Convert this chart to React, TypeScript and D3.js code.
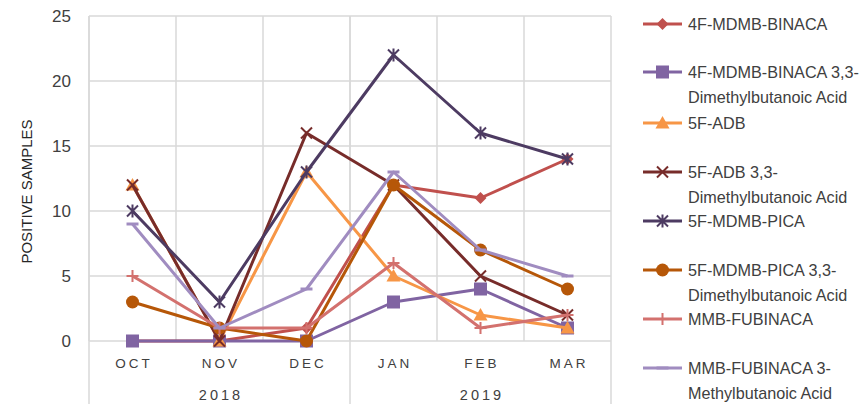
import React from "react";
import * as d3 from "d3";

const months = ["OCT", "NOV", "DEC", "JAN", "FEB", "MAR"];
const years = [
  { label: "2018", from: 0, to: 3 },
  { label: "2019", from: 3, to: 6 },
];
const yTicks = [0, 5, 10, 15, 20, 25];

const s4FMDMB = [0, 0, 1, 12, 11, 14];
const s4FMDMBAcid = [0, 0, 0, 3, 4, 1];
const s5FADB = [12, 0, 13, 5, 2, 1];
const s5FADBAcid = [12, 0, 16, 12, 5, 2];
const s5FPICA = [10, 3, 13, 22, 16, 14];
const s5FPICAAcid = [3, 1, 0, 12, 7, 4];
const sMMB = [5, 1, 1, 6, 1, 2];
const sMMBAcid = [9, 1, 4, 13, 7, 5];

const series = [
  { name: ["4F-MDMB-BINACA"], values: s4FMDMB, color: "#C0504D", marker: "diamond" },
  { name: ["4F-MDMB-BINACA 3,3-", "Dimethylbutanoic Acid"], values: s4FMDMBAcid, color: "#8064A2", marker: "square" },
  { name: ["5F-ADB"], values: s5FADB, color: "#F79646", marker: "triangle" },
  { name: ["5F-ADB 3,3-", "Dimethylbutanoic Acid"], values: s5FADBAcid, color: "#772C2A", marker: "x" },
  { name: ["5F-MDMB-PICA"], values: s5FPICA, color: "#4D3B62", marker: "star" },
  { name: ["5F-MDMB-PICA 3,3-", "Dimethylbutanoic Acid"], values: s5FPICAAcid, color: "#B65708", marker: "circle" },
  { name: ["MMB-FUBINACA"], values: sMMB, color: "#D3716E", marker: "plus" },
  { name: ["MMB-FUBINACA 3-", "Methylbutanoic Acid"], values: sMMBAcid, color: "#A08CC0", marker: "dash" },
];

const W = 863;
const H = 404;
const plot = { left: 89, right: 611, top: 16, bottom: 341 };
const FONT = "'Liberation Sans', Arial, sans-serif";

function Marker({ type, color, x, y }: { type: string; color: string; x: number; y: number }) {
  const t = `translate(${x},${y})`;
  if (type === "diamond") {
    const r = 6;
    return <path transform={t} d={`M0,${-r}L${r},0L0,${r}L${-r},0Z`} fill={color} />;
  }
  if (type === "square") {
    const r = 6.5;
    return <rect x={x - r} y={y - r} width={2 * r} height={2 * r} fill={color} />;
  }
  if (type === "triangle") {
    const r = 7;
    return <path transform={t} d={`M0,${-r}L${r},${r * 0.8}L${-r},${r * 0.8}Z`} fill={color} />;
  }
  if (type === "circle") {
    return <circle cx={x} cy={y} r={6.5} fill={color} />;
  }
  if (type === "x") {
    const r = 5.5;
    return (
      <path transform={t} d={`M${-r},${-r}L${r},${r}M${-r},${r}L${r},${-r}`} stroke={color} strokeWidth={2} fill="none" />
    );
  }
  if (type === "star") {
    const r = 5.5;
    return (
      <path
        transform={t}
        d={`M${-r},${-r}L${r},${r}M${-r},${r}L${r},${-r}M0,${-r - 1}L0,${r + 1}`}
        stroke={color}
        strokeWidth={2}
        fill="none"
      />
    );
  }
  if (type === "plus") {
    const r = 6;
    return <path transform={t} d={`M${-r},0L${r},0M0,${-r}L0,${r}`} stroke={color} strokeWidth={2} fill="none" />;
  }
  if (type === "dash") {
    const r = 6;
    return <path transform={t} d={`M${-r},0L${r},0`} stroke={color} strokeWidth={3} fill="none" />;
  }
  return null;
}

export default function App() {
  const x = d3.scaleBand<string>().domain(months).range([plot.left, plot.right]).padding(0);
  const y = d3.scaleLinear().domain([0, 25]).range([plot.bottom, plot.top]);
  const cx = (m: string) => (x(m) as number) + x.bandwidth() / 2;
  const line = d3
    .line<number>()
    .x((_, i) => cx(months[i]))
    .y((v) => y(v));

  const grid = "#D9D9D9";
  const legendX0 = 643;
  const legendX1 = 682;
  const legendYs = [24, 72, 123, 172, 221, 270, 319, 368];

  return (
    <svg
      width={W}
      height={H}
      style={{ position: "absolute", left: 0, top: 0, background: "#fff" }}
      fontFamily={FONT}
    >
      {yTicks.map((t) => (
        <line key={"h" + t} x1={plot.left} x2={plot.right} y1={y(t)} y2={y(t)} stroke={grid} strokeWidth={1.5} />
      ))}
      {months.map((m) => (
        <line key={"v" + m} x1={x(m)} x2={x(m)} y1={plot.top} y2={plot.bottom} stroke={grid} strokeWidth={1.5} />
      ))}
      <line x1={plot.right} x2={plot.right} y1={plot.top} y2={H} stroke={grid} strokeWidth={1.5} />
      {years.map((yr) => (
        <line
          key={"ys" + yr.label}
          x1={x(months[yr.from])}
          x2={x(months[yr.from])}
          y1={plot.top}
          y2={H}
          stroke={grid}
          strokeWidth={1.5}
        />
      ))}
      {yTicks.map((t) => (
        <text key={"yt" + t} x={71} y={y(t)} dy="0.35em" textAnchor="end" fontSize={17} fill="#404040">
          {t}
        </text>
      ))}
      <text
        transform={`translate(32,191.5) rotate(-90)`}
        textAnchor="middle"
        fontSize={15}
        fill="#262626"
      >
        POSITIVE SAMPLES
      </text>
      {months.map((m) => (
        <text
          key={"m" + m}
          x={cx(m) + 1.5}
          y={363}
          dy="0.35em"
          textAnchor="middle"
          fontSize={13.5}
          letterSpacing={3}
          fill="#404040"
        >
          {m}
        </text>
      ))}
      {years.map((yr) => {
        const a = x(months[yr.from]) as number;
        const b = yr.to < months.length ? (x(months[yr.to]) as number) : plot.right;
        return (
          <text
            key={"y" + yr.label}
            x={(a + b) / 2 + 1.5}
            y={395}
            dy="0.35em"
            textAnchor="middle"
            fontSize={14.5}
            letterSpacing={3}
            fill="#404040"
          >
            {yr.label}
          </text>
        );
      })}
      {series.map((s) => (
        <g key={s.name[0]}>
          <path d={line(s.values) || ""} fill="none" stroke={s.color} strokeWidth={3} strokeLinejoin="round" />
          {s.values.map((v, i) => (
            <Marker key={i} type={s.marker} color={s.color} x={cx(months[i])} y={y(v)} />
          ))}
        </g>
      ))}
      {series.map((s, i) => {
        const ly = legendYs[i];
        return (
          <g key={"lg" + i}>
            <line x1={legendX0} x2={legendX1} y1={ly} y2={ly} stroke={s.color} strokeWidth={3} />
            <Marker type={s.marker} color={s.color} x={(legendX0 + legendX1) / 2} y={ly} />
            {s.name.map((n, j) => (
              <text key={j} x={688} y={ly + j * 25} dy="0.35em" fontSize={16.2} fill="#404040">
                {n}
              </text>
            ))}
          </g>
        );
      })}
    </svg>
  );
}
